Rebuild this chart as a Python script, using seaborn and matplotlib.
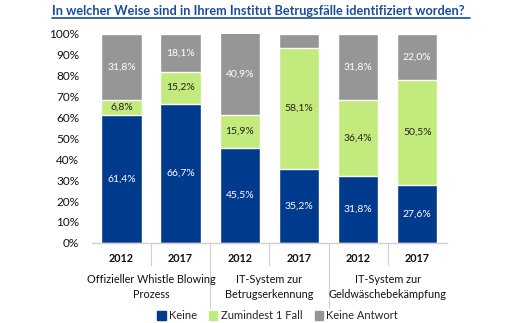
import matplotlib
matplotlib.use("Agg")
import matplotlib.pyplot as plt
import seaborn as sns
import pandas as pd
import numpy as np

years = ["2012", "2017", "2012", "2017", "2012", "2017"]
groups = ["Offizieller Whistle Blowing\nProzess", "IT-System zur\nBetrugserkennung", "IT-System zur\nGeldwäschebekämpfung"]
keine = [61.4, 66.7, 45.5, 35.2, 31.8, 27.6]
zumindest = [6.8, 15.2, 15.9, 58.1, 36.4, 50.5]
antwort = [31.8, 18.1, 40.9, 6.7, 31.8, 22.0]
antwort_labels = ["31,8%", "18,1%", "40,9%", "", "31,8%", "22,0%"]
series_names = ["Keine", "Zumindest 1 Fall", "Keine Antwort"]
title = "In welcher Weise sind in Ihrem Institut Betrugsfälle identifiziert worden?"

c_blue = "#003A8C"
c_green = "#C3EA7C"
c_gray = "#969696"

sns.set_theme(style="white")
plt.rcParams["font.family"] = ["Lato", "DejaVu Sans"]

keys = [f"b{i}" for i in range(len(years))]
df = pd.DataFrame({"key": keys, "keine": keine, "zum": zumindest, "ant": antwort})
df["cum1"] = df["keine"]
df["cum2"] = df["keine"] + df["zum"]
df["cum3"] = df["cum2"] + df["ant"]

fig = plt.figure(figsize=(5.16, 3.23), dpi=100)
ax = fig.add_axes([0.178, 0.248, 0.688, 0.647])

sns.barplot(data=df, x="key", y="cum3", order=keys, color=c_gray, width=0.68, ax=ax, saturation=1, errorbar=None)
sns.barplot(data=df, x="key", y="cum2", order=keys, color=c_green, width=0.68, ax=ax, saturation=1, errorbar=None)
sns.barplot(data=df, x="key", y="cum1", order=keys, color=c_blue, width=0.68, ax=ax, saturation=1, errorbar=None)

def fmt(v):
    return f"{v:.1f}%".replace(".", ",")

for i in range(len(keys)):
    k, z, a = keine[i], zumindest[i], antwort[i]
    ax.text(i, k / 2, fmt(k), ha="center", va="center", color="white", fontsize=7.5)
    ax.text(i, k + z / 2, fmt(z), ha="center", va="center", color="#222222", fontsize=7.5)
    if antwort_labels[i]:
        top = min(k + z + a, 100)
        ax.text(i, (k + z + top) / 2, antwort_labels[i], ha="center", va="center", color="white", fontsize=7.5)

ax.set_ylim(0, 100)
ax.set_xlim(-0.5, len(keys) - 0.5)
ax.set_yticks(np.arange(0, 101, 10))
ax.set_yticklabels([f"{v}%" for v in range(0, 101, 10)], fontsize=8.5, color="#111111")
ax.set_xticks(range(len(keys)))
ax.set_xticklabels(years, fontsize=7.8, color="#111111", fontweight="bold")
ax.tick_params(axis="x", length=0, pad=7)
ax.tick_params(axis="y", length=0, pad=9)
ax.set_xlabel("")
ax.set_ylabel("")
for s in ["top", "right", "left"]:
    ax.spines[s].set_visible(False)
ax.spines["bottom"].set_color("#D0D0D0")
ax.spines["bottom"].set_linewidth(1)

trans = ax.get_xaxis_transform()
for b in [0.5, 2.5, 4.5]:
    ax.plot([b, b], [0, -0.105], transform=trans, color="#D0D0D0", lw=0.8, clip_on=False)
for b in [1.5, 3.5]:
    ax.plot([b, b], [0, -0.31], transform=trans, color="#D0D0D0", lw=0.8, clip_on=False)
for gi, g in enumerate(groups):
    ax.text(2 * gi + 0.5, -0.15, g, transform=trans, ha="center", va="top", fontsize=7.8, color="#111111", linespacing=1.45)

handles = [plt.Rectangle((0, 0), 1, 1, color=c) for c in [c_blue, c_green, c_gray]]
fig.legend(handles, series_names, loc="center", bbox_to_anchor=(0.538, 0.022), ncol=3, frameon=False,
           fontsize=8, handlelength=0.75, handleheight=0.75, handletextpad=0.3, columnspacing=1.1, borderpad=0)

fig.text(0.1, 0.966, title, ha="left", va="center", fontsize=9.2, fontweight="bold", color="#1A4C9C")
fig.add_artist(plt.Line2D([0.1, 0.91], [0.944, 0.944], color="#1A4C9C", lw=1.2, transform=fig.transFigure))

fig.savefig("out.png", dpi=100, facecolor="white")
